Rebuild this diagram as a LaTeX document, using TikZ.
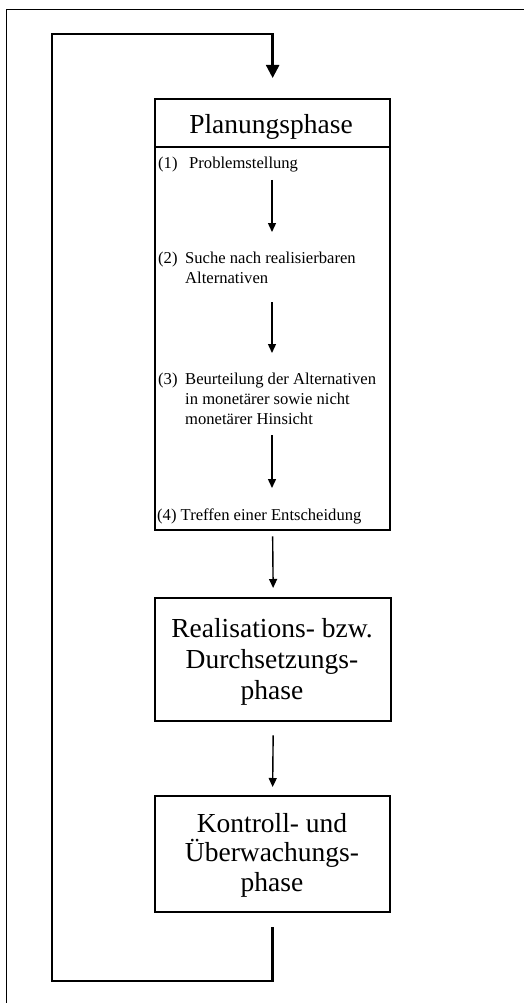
\documentclass[tikz,border=0pt]{standalone}
\usepackage{fontspec}
\setmainfont{Liberation Serif}
\usetikzlibrary{arrows.meta}
\begin{document}
\begin{tikzpicture}[x=1pt,y=-1pt,
  box/.style={draw,line width=2.3pt,inner sep=0pt,anchor=north west,minimum width=235pt},
  bigtext/.style={font=\fontsize{27.5}{31}\selectfont,align=center,inner sep=0pt,anchor=base},
  itemtext/.style={font=\fontsize{16.6}{19.6}\selectfont,align=left,inner sep=0pt,anchor=base west},
  arr/.style={line width=1.4pt,-{Triangle[length=9pt,width=8pt]}},
  loopline/.style={line width=2.4pt,-{Triangle[length=13pt,width=13pt]}},
  frame/.style={line width=1pt}]
\useasboundingbox (0,0) rectangle (524,1003);
% partial frame
\draw[frame] (6.5,1003) -- (6.5,9.5) -- (524,9.5);
% boxes
\node[box,minimum height=48pt] (head) at (154,98) {};
\node[box,minimum height=383pt] (body) at (154,146) {};
\node[box,minimum width=236pt,minimum height=123pt] (real) at (154,597) {};
\node[box,minimum height=116pt] (kontr) at (154,795) {};
% texts (base anchor = baseline of last line)
\node[bigtext] (title) at (271,134) {Planungsphase};
\node[itemtext] (it1) at (158,168) {\makebox[31pt][l]{(1)}Problemstellung};
\node[itemtext] (it2) at (158,283) {\makebox[27pt][l]{(2)}Suche nach realisierbaren\\\hspace*{27pt}Alternativen};
\node[itemtext] (it3) at (158,424) {\makebox[27pt][l]{(3)}Beurteilung der Alternativen\\\hspace*{27pt}in monetärer sowie nicht\\\hspace*{27pt}monetärer Hinsicht};
\node[itemtext] (it4) at (157,520) {(4) Treffen einer Entscheidung};
\node[bigtext] (realtext) at (272,699) {Realisations- bzw.\\Durchsetzungs-\\phase};
\node[bigtext,font=\fontsize{27.5}{29.5}\selectfont] (kontrtext) at (272,891) {Kontroll- und\\Überwachungs-\\phase};
% inner arrows
\coordinate (a1s) at (272,180); \coordinate (a1e) at (272,232);
\coordinate (a2s) at (272,302); \coordinate (a2e) at (272,353);
\coordinate (a3s) at (272,435); \coordinate (a3e) at (272,488);
\draw[arr] (a1s) -- (a1e);
\draw[arr] (a2s) -- (a2e);
\draw[arr] (a3s) -- (a3e);
\draw[arr] ([yshift=-5pt]body.south) -- ([yshift=9pt]real.north);
\draw[arr] ([yshift=-13pt]real.south) -- ([yshift=8pt]kontr.north);
% feedback loop
\coordinate (ll) at (52,981);
\coordinate (ul) at (52,34);
\draw[loopline] ([yshift=-14pt]kontr.south) |- (ll) -- (ul) -| ([yshift=20pt]head.north);
\end{tikzpicture}
\end{document}
